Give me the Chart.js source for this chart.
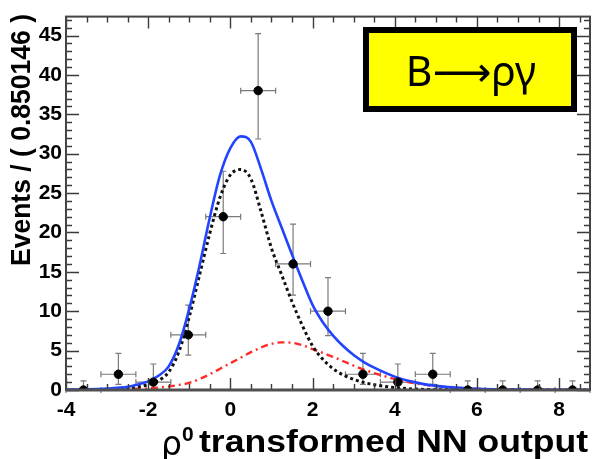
<!DOCTYPE html>
<html>
<head>
<meta charset="utf-8">
<script src="https://cdn.jsdelivr.net/npm/chart.js@4/dist/chart.umd.min.js"></script>
<style>
  html, body { margin: 0; padding: 0; background: #fff; }
</style>
</head>
<body>
<canvas id="nn" width="596" height="459"></canvas>
<script>
// binned data
const binWidth = 0.850146;
const binCenters = [-3.575, -2.725, -1.874, -1.024, -0.174, 0.676, 1.526, 2.376, 3.226, 4.076, 4.926, 5.777, 6.627, 7.477, 8.327];
const events = [0, 2, 1, 7, 22, 38, 16, 10, 2, 1, 2, 0, 0, 0, 0];
const errLow = [0, 1.29, 0.83, 2.58, 4.67, 6.14, 3.96, 3.11, 1.29, 0.83, 1.29, 0, 0, 0, 0];
const errHigh = [1.15, 2.64, 2.3, 3.77, 5.77, 7.23, 5.06, 4.26, 2.64, 2.3, 2.64, 1.15, 1.15, 1.15, 1.15];

// fit curves
const curveX = [-4, -3.5, -3, -2.5, -2.25, -2, -1.75, -1.5, -1.25, -1, -0.75, -0.5, -0.25, 0, 0.25, 0.5, 0.75, 1, 1.25, 1.5, 1.75, 2, 2.25, 2.5, 2.75, 3, 3.25, 3.5, 4, 4.5, 5, 5.5, 6, 7, 8, 8.75];
const totalPdf = [0.05, 0.1, 0.2, 0.4, 0.7, 1.1, 1.8, 3.0, 5.8, 10.3, 15.8, 21.9, 27.3, 30.7, 32.2, 31.5, 28.0, 24.0, 20.6, 17.2, 13.9, 10.8, 8.6, 6.9, 5.55, 4.45, 3.55, 2.83, 1.7, 0.97, 0.52, 0.3, 0.16, 0.05, 0.02, 0.01];
const signalPdf = [0, 0, 0.05, 0.2, 0.4, 0.7, 1.2, 2.3, 4.9, 9.3, 14.6, 19.9, 24.5, 27.3, 28.0, 26.8, 22.6, 18.0, 14.6, 11.2, 8.2, 5.6, 3.9, 2.7, 1.9, 1.35, 0.95, 0.68, 0.3, 0.12, 0.04, 0.01, 0, 0, 0, 0];
const bkgPdf = [0, 0.02, 0.05, 0.1, 0.15, 0.2, 0.3, 0.45, 0.65, 0.9, 1.4, 2.0, 2.7, 3.4, 4.1, 4.8, 5.4, 5.85, 6.05, 6.0, 5.7, 5.2, 4.7, 4.2, 3.65, 3.1, 2.6, 2.15, 1.4, 0.85, 0.48, 0.28, 0.15, 0.04, 0.01, 0];

// axes
const xMin = -4;
const xMax = -4 + 15 * binWidth;
const yMin = 0;
const yMax = 47.4;
const xTickLabels = [-4, -2, 0, 2, 4, 6, 8];
const yTickLabels = [0, 5, 10, 15, 20, 25, 30, 35, 40, 45];

const yTitle = "Events / ( 0.850146 )";
const xTitle = "transformed NN output";
const boxText = "B\u27F6\u03C1\u03B3";

const toXY = (xs, ys) => xs.map((x, i) => ({ x, y: ys[i] }));

const errorBars = {
  id: "errorBars",
  beforeDatasetsDraw(chart) {
    const { ctx, scales: { x, y } } = chart;
    ctx.save();
    ctx.strokeStyle = "#7a7a7a";
    ctx.lineWidth = 1.2;
    ctx.beginPath();
    binCenters.forEach((c, i) => {
      const px = x.getPixelForValue(c);
      const py = y.getPixelForValue(events[i]);
      const x0 = x.getPixelForValue(c - binWidth / 2);
      const x1 = x.getPixelForValue(c + binWidth / 2);
      const y0 = y.getPixelForValue(events[i] - errLow[i]);
      const y1 = y.getPixelForValue(events[i] + errHigh[i]);
      ctx.moveTo(x0, py); ctx.lineTo(x1, py);
      ctx.moveTo(x0, py - 3); ctx.lineTo(x0, py + 3);
      ctx.moveTo(x1, py - 3); ctx.lineTo(x1, py + 3);
      ctx.moveTo(px, y0); ctx.lineTo(px, y1);
      ctx.moveTo(px - 3, y1); ctx.lineTo(px + 3, y1);
      if (errLow[i] > 0) { ctx.moveTo(px - 3, y0); ctx.lineTo(px + 3, y0); }
    });
    ctx.stroke();
    ctx.restore();
  },
};

// frame with inward ticks on all four sides
const frame = {
  id: "frame",
  afterDatasetsDraw(chart) {
    const { ctx, chartArea: { left, right, top, bottom }, scales: { x, y } } = chart;
    ctx.save();
    ctx.strokeStyle = "#3a3a3a";
    ctx.lineWidth = 1.4;
    ctx.beginPath();
    for (let v = 0; v <= 47; v++) {
      const py = Math.round(y.getPixelForValue(v)) + 0.5;
      const len = v % 5 === 0 ? 13 : 6;
      ctx.moveTo(left, py); ctx.lineTo(left + len, py);
      ctx.moveTo(right, py); ctx.lineTo(right - len, py);
    }
    for (let v = -4; v <= 8.5; v += 0.5) {
      const px = Math.round(x.getPixelForValue(v)) + 0.5;
      const len = v % 2 === 0 ? 12 : 6;
      ctx.moveTo(px, top); ctx.lineTo(px, top + len);
      ctx.moveTo(px, bottom); ctx.lineTo(px, bottom - len);
    }
    ctx.stroke();
    ctx.lineWidth = 2;
    ctx.strokeStyle = "#444";
    ctx.strokeRect(left, top, right - left, bottom - top);
    ctx.lineWidth = 3;
    ctx.strokeStyle = "#505050";
    ctx.beginPath();
    ctx.moveTo(left, bottom); ctx.lineTo(right, bottom);
    ctx.stroke();
    ctx.restore();
  },
};

// draws text squeezed or stretched horizontally to a given width
function fitText(ctx, text, x, y, width) {
  const w = ctx.measureText(text).width;
  ctx.save();
  ctx.translate(x, y);
  ctx.scale(width / w, 1);
  ctx.fillText(text, 0, 0);
  ctx.restore();
}

const titles = {
  id: "titles",
  afterDraw(chart) {
    const { ctx } = chart;
    ctx.save();
    ctx.fillStyle = "#000";
    ctx.textBaseline = "alphabetic";
    ctx.textAlign = "left";

    // y title, rotated
    ctx.save();
    ctx.translate(30, 266);
    ctx.rotate(-Math.PI / 2);
    ctx.font = "bold 28px 'Liberation Sans', Arial, sans-serif";
    fitText(ctx, yTitle, 0, 0, 252);
    ctx.restore();

    // x title: rho, superscript zero, then the rest
    const base = 452;
    ctx.font = "33px 'DejaVu Sans', sans-serif";
    ctx.fillText("\u03C1", 161, base + 3);
    ctx.font = "bold 21px 'Liberation Sans', Arial, sans-serif";
    ctx.fillText("0", 182, base - 11);
    ctx.font = "bold 32px 'Liberation Sans', Arial, sans-serif";
    fitText(ctx, xTitle, 199, base, 389);

    // decay label box
    ctx.fillStyle = "#ffff00";
    ctx.fillRect(366, 30, 208, 79);
    ctx.lineWidth = 6;
    ctx.strokeStyle = "#000";
    ctx.strokeRect(366, 30, 208, 79);
    ctx.fillStyle = "#000";
    ctx.font = "41px 'Noto Sans', 'DejaVu Sans', sans-serif";
    ctx.textAlign = "center";
    ctx.fillText(boxText, 471, 86);
    ctx.restore();
  },
};

const tickFont = { family: "'Liberation Sans', Arial, sans-serif", size: 21, weight: "bold" };

new Chart(document.getElementById("nn"), {
  type: "scatter",
  data: {
    datasets: [
      {
        label: "data",
        data: toXY(binCenters, events),
        pointRadius: 4.2,
        pointBackgroundColor: "#000",
        pointBorderColor: "#000",
        showLine: false,
      },
      {
        label: "total",
        data: toXY(curveX, totalPdf),
        showLine: true,
        pointRadius: 0,
        borderColor: "#2244ff",
        borderWidth: 2.6,
        cubicInterpolationMode: "monotone",
      },
      {
        label: "signal",
        data: toXY(curveX, signalPdf),
        showLine: true,
        pointRadius: 0,
        borderColor: "#111",
        borderWidth: 3,
        borderDash: [3, 3],
        cubicInterpolationMode: "monotone",
      },
      {
        label: "background",
        data: toXY(curveX, bkgPdf),
        showLine: true,
        pointRadius: 0,
        borderColor: "#ff2a2a",
        borderWidth: 2.4,
        borderDash: [7, 4, 2, 4],
        cubicInterpolationMode: "monotone",
      },
    ],
  },
  plugins: [errorBars, frame, titles],
  options: {
    responsive: false,
    animation: false,
    devicePixelRatio: 1,
    layout: { padding: { top: 13, right: 6, left: 0, bottom: 0 } },
    plugins: {
      legend: { display: false },
      tooltip: { enabled: false },
    },
    scales: {
      x: {
        type: "linear",
        min: xMin,
        max: xMax,
        grid: { display: false, drawTicks: false },
        border: { display: false },
        ticks: { stepSize: 2, padding: 8, color: "#000", font: tickFont, maxRotation: 0 },
        afterBuildTicks(scale) {
          scale.ticks = xTickLabels.map((v) => ({ value: v }));
        },
        afterFit(scale) { scale.height = 69; },
      },
      y: {
        type: "linear",
        min: yMin,
        max: yMax,
        grid: { display: false, drawTicks: false },
        border: { display: false },
        ticks: { stepSize: 5, padding: 4, color: "#000", font: tickFont },
        afterBuildTicks(scale) {
          scale.ticks = yTickLabels.map((v) => ({ value: v }));
        },
        afterFit(scale) { scale.width = 66; },
      },
    },
  },
});
</script>
</body>
</html>
